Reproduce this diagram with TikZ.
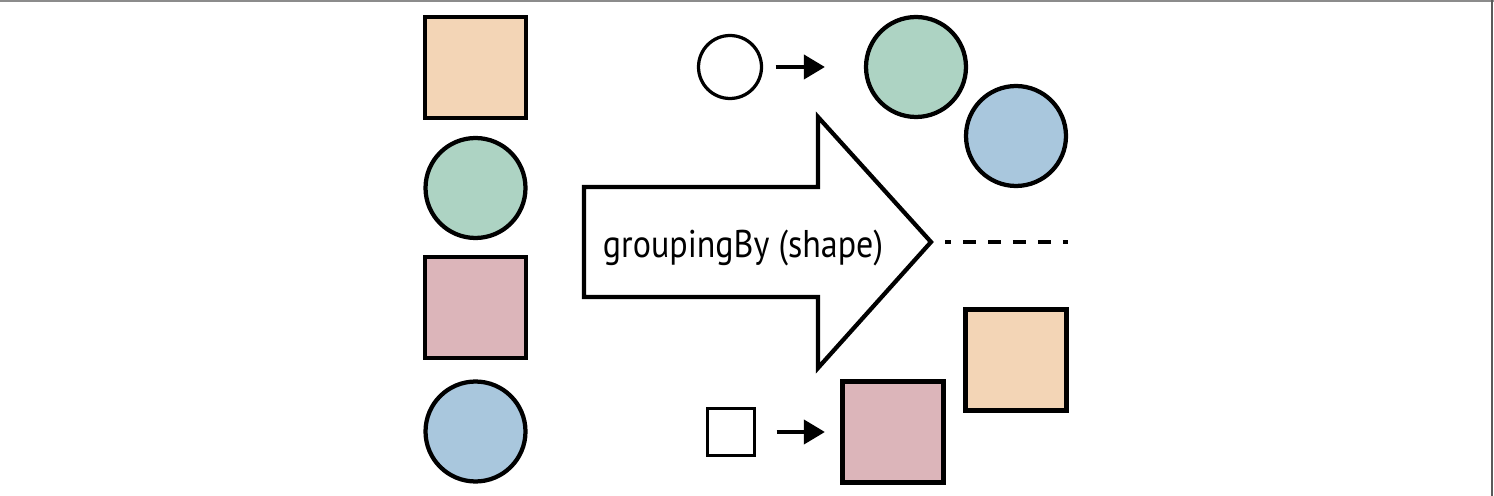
\documentclass[tikz,border=0pt]{standalone}
\usepackage{fontspec}
\setmainfont{PT Sans}
\newfontfamily\arrowfont[FakeStretch=0.88]{PT Sans}
\usepackage{tikz}
\usetikzlibrary{arrows.meta,positioning}
\definecolor{GroupOrange}{RGB}{243,213,182}
\definecolor{GroupGreen}{RGB}{173,211,195}
\definecolor{GroupPink}{RGB}{220,181,186}
\definecolor{GroupBlue}{RGB}{169,199,221}
\definecolor{FrameGray}{RGB}{140,140,140}
\definecolor{EdgeGray}{RGB}{90,90,90}

\begin{document}
\begin{tikzpicture}[x=0.02cm,y=-0.02cm,
    sq/.style={draw,line width=0.085cm,inner sep=0pt,minimum size=2.02cm},
    rnd/.style={draw,circle,line width=0.085cm,inner sep=0pt,minimum size=2.0cm},
    keysq/.style={draw,line width=0.065cm,inner sep=0pt,minimum size=0.94cm},
    keyrnd/.style={draw,circle,line width=0.065cm,inner sep=0pt,minimum size=1.26cm},
    link/.style={line width=0.08cm,-{Triangle[length=0.42cm,width=0.48cm]}}]
\useasboundingbox (0,0) rectangle (1494,496);
\draw[FrameGray,line width=0.04cm] (0,1) -- (1494,1);
\draw[EdgeGray,line width=0.04cm] (1492,0) -- (1492,496);
% input stream
\node[sq,fill=GroupOrange] (inOrange) at (475.5,67.5) {};
\node[rnd,fill=GroupGreen] (inGreen) at (475.5,188) {};
\node[sq,fill=GroupPink] (inPink) at (475.5,307.5) {};
\node[rnd,fill=GroupBlue] (inBlue) at (475.5,431.5) {};
% big arrow
\draw[line width=0.085cm,line join=miter]
    (584,187) -- (818,187) -- (818,117) -- (931,242) -- (818,368) -- (818,297) -- (584,297) -- cycle;
\node[font=\arrowfont\fontsize{22}{26}\selectfont,anchor=base] (label) at (743,258) {groupingBy (shape)};
% circle group
\node[keyrnd] (keyCircle) at (730,67) {};
\node[rnd,fill=GroupGreen] (outGreen) at (916,67) {};
\node[rnd,fill=GroupBlue] (outBlue) at (1016,136) {};
\draw[link,shorten <=0.25cm,shorten >=0.78cm] (keyCircle.east) -- (outGreen.west);
% separator
\coordinate (sepL) at (945,242);
\coordinate (sepR) at (1068,242);
\draw[line width=0.085cm,dash pattern=on 0.26cm off 0.24cm,dash phase=0.14cm] (sepL) -- (sepR);
% square group
\node[keysq] (keySquare) at (731,432) {};
\node[sq,fill=GroupPink] (outPink) at (893,432) {};
\node[sq,fill=GroupOrange] (outOrange) at (1016,360) {};
\draw[link,shorten <=0.41cm,shorten >=0.31cm] (keySquare) -- (outPink);
\end{tikzpicture}
\end{document}
